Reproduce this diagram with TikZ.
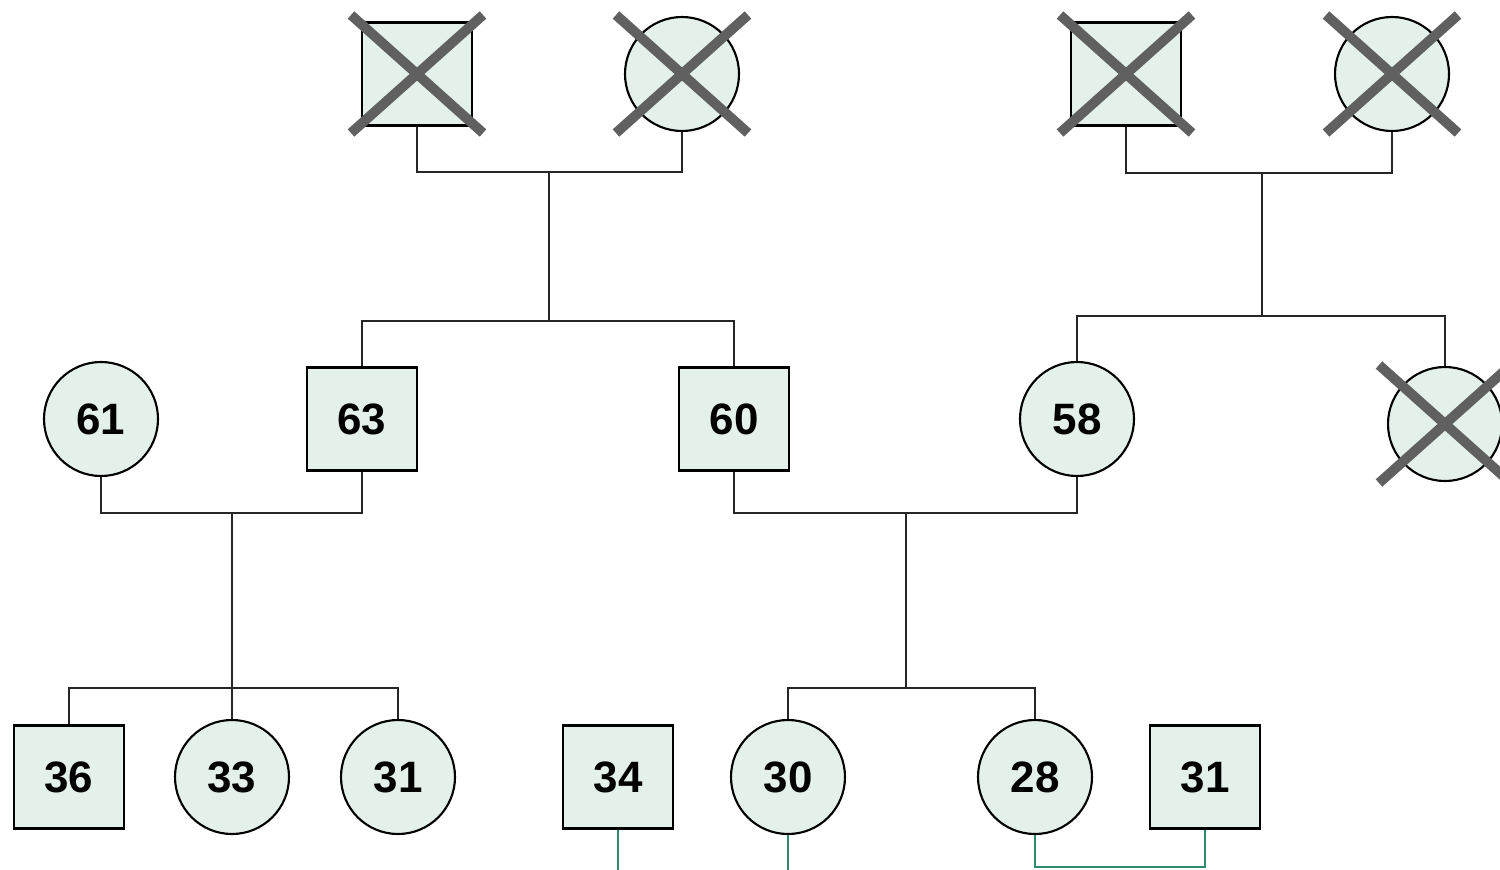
\documentclass[tikz,border=0pt]{standalone}
\usepackage{fontspec}
\setmainfont{Liberation Sans}
\usepackage{xcolor}
\usepackage{tikz}
\usetikzlibrary{positioning, calc}
\definecolor{pfill}{RGB}{228,241,234}
\definecolor{crossgray}{RGB}{96,96,96}
\definecolor{kinline}{RGB}{46,139,110}
% strike a person out with a heavy grey cross
\newcommand{\deceased}[1]{%
  \draw[strike] ($(#1.center)+(-1.32,1.18)$) -- ($(#1.center)+(1.32,-1.18)$);
  \draw[strike] ($(#1.center)+(1.32,1.18)$) -- ($(#1.center)+(-1.32,-1.18)$);}

\begin{document}
\begin{tikzpicture}[
    font=\fontsize{25}{30}\selectfont\bfseries,
    every node/.style={inner sep=0pt},
    male/.style={draw=black, line width=1.5pt, fill=pfill,
                 minimum width=2.2cm, minimum height=2.06cm},
    female/.style={draw=black, line width=1.2pt, fill=pfill,
                   circle, minimum size=2.28cm},
    link/.style={draw=black!85, line width=0.6pt},
    kin/.style={draw=kinline, line width=0.6pt},
    strike/.style={draw=crossgray, line width=5.6pt}
  ]
  \useasboundingbox (0,0) rectangle (30,-17.38);

  % ===== GENERATION I =====
  \node[male]   (g1) at (8.34,-1.48)  {};
  \node[female] (g2) at (13.64,-1.48) {};
  \node[male]   (g3) at (22.52,-1.48) {};
  \node[female] (g4) at (27.84,-1.48) {};

  % ===== GENERATION II =====
  \node[female] (p61) at (2.02,-8.38)  {61};
  \node[male]   (p63) at (7.24,-8.38)  {63};
  \node[male]   (p60) at (14.68,-8.38) {60};
  \node[female] (p58) at (21.54,-8.38) {58};
  \node[female] (p5x) at (28.9,-8.48)  {};

  % ===== GENERATION III =====
  \node[male]   (p36)  at (1.38,-15.54)  {36};
  \node[female] (p33)  at (4.64,-15.54)  {33};
  \node[female] (p31a) at (7.96,-15.54)  {31};
  \node[male]   (p34)  at (12.36,-15.54) {34};
  \node[female] (p30)  at (15.76,-15.54) {30};
  \node[female] (p28)  at (20.7,-15.54)  {28};
  \node[male]   (p31b) at (24.1,-15.54)  {31};

  % ===== COUPLES AND SIBSHIPS =====
  \coordinate (c1) at (10.98,-3.44);
  \coordinate (s1) at (10.98,-6.42);
  \draw[link] (g1.south) |- (c1) -| (g2.south);
  \draw[link] (c1) -- (s1);
  \draw[link] (p63.north) |- (s1) -| (p60.north);

  \coordinate (c2) at (25.24,-3.46);
  \coordinate (s2) at (25.24,-6.32);
  \draw[link] (g3.south) |- (c2) -| (g4.south);
  \draw[link] (c2) -- (s2);
  \draw[link] (p58.north) |- (s2) -| (p5x.north);

  \coordinate (c3) at (4.64,-10.26);
  \coordinate (s3) at (4.64,-13.76);
  \draw[link] (p61.south) |- (c3) -| (p63.south);
  \draw[link] (c3) -- (p33.north);
  \draw[link] (p36.north) |- (s3) -| (p31a.north);

  \coordinate (c4) at (18.12,-10.26);
  \coordinate (s4) at (18.12,-13.76);
  \draw[link] (p60.south) |- (c4) -| (p58.south);
  \draw[link] (c4) -- (s4);
  \draw[link] (p30.north) |- (s4) -| (p28.north);

  % ===== NEXT GENERATION (leaving the page) =====
  \coordinate (e34) at (12.36,-17.6);
  \coordinate (e30) at (15.76,-17.6);
  \coordinate (c5)  at (22.4,-17.34);
  \draw[kin] (p34.south) -- (e34);
  \draw[kin] (p30.south) -- (e30);
  \draw[kin] (p28.south) |- (c5) -| (p31b.south);

  % ===== DECEASED =====
  \deceased{g1}
  \deceased{g2}
  \deceased{g3}
  \deceased{g4}
  \deceased{p5x}

\end{tikzpicture}
\end{document}
